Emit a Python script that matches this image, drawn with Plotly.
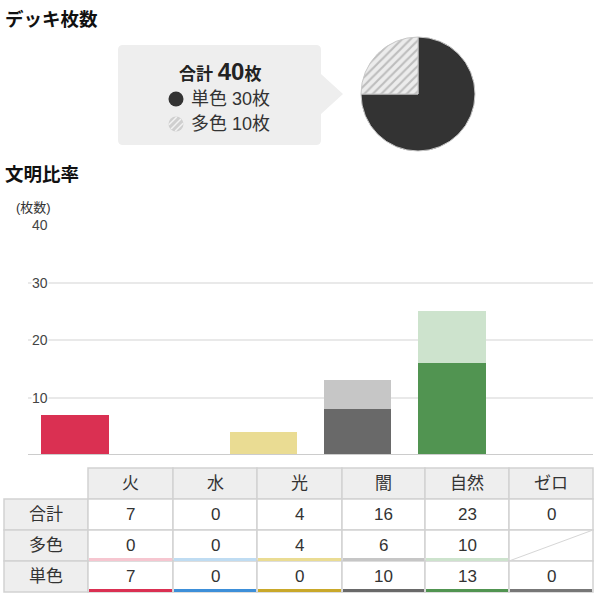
import math
import plotly.graph_objects as go

# ---------------- data ----------------
civs = ["火", "水", "光", "闇", "自然", "ゼロ"]
# stacked bar values as drawn in the chart
bar_single = [7, 0, 0, 8, 16, 0]
bar_multi = [0, 0, 4, 5, 9, 0]
# table values
tbl_total = [7, 0, 4, 16, 23, 0]
tbl_multi = [0, 0, 4, 6, 10, None]
tbl_single = [7, 0, 0, 10, 13, 0]
row_labels = ["合計", "多色", "単色"]
# deck composition
pie_labels = ["単色", "多色"]
pie_values = [30, 10]
deck_total = 40
y_ticks = [0, 10, 20, 30, 40]

dark_colors = ["#DA3052", "#3D8FD9", "#C9A82A", "#696969", "#519451", "#777777"]
light_colors = ["#F6C6D0", "#BFDCF2", "#EADC93", "#C6C6C6", "#CDE3CD", "#D8D8D8"]

W = H = 605
FONT = "Liberation Sans, Arial, Noto Sans CJK JP, sans-serif"


def X(px):
    return px / W


def Y(py):
    return 1 - py / H


fig = go.Figure()

# ---------------- bar chart ----------------
plot_x0, plot_x1 = 28, 593
plot_y0, plot_y1 = 455, 225  # bottom, top (pixels)

fig.add_trace(go.Bar(x=civs, y=bar_single, marker=dict(color=dark_colors, line=dict(width=0)),
                     width=0.72, hoverinfo="skip", name="単色"))
fig.add_trace(go.Bar(x=civs, y=bar_multi, marker=dict(color=light_colors, line=dict(width=0)),
                     width=0.72, hoverinfo="skip", name="多色"))

# ---------------- pie ----------------
pcx, pcy, pr = 418, 94, 57
fig.add_trace(go.Pie(
    labels=pie_labels, values=pie_values, sort=False, direction="clockwise", rotation=0,
    textinfo="none", hoverinfo="skip", showlegend=False,
    marker=dict(colors=["#333333", "#E6E6E6"],
                line=dict(color="#C8C8C8", width=1),
                pattern=dict(shape=["", "/"], fgcolor="#BDBDBD", bgcolor="#ECECEC", size=6, solidity=0.35)),
    domain=dict(x=[X(pcx - pr), X(pcx + pr)], y=[Y(pcy + pr), Y(pcy - pr)]),
))

shapes = []
annotations = []

# ---------------- titles ----------------
annotations.append(dict(text="<b>デッキ枚数</b>", x=X(3), y=Y(19), xref="paper", yref="paper",
                        xanchor="left", yanchor="middle", showarrow=False,
                        font=dict(size=18.5, color="#111", family=FONT)))
annotations.append(dict(text="<b>文明比率</b>", x=X(3), y=Y(175), xref="paper", yref="paper",
                        xanchor="left", yanchor="middle", showarrow=False,
                        font=dict(size=18.5, color="#111", family=FONT)))

# ---------------- callout box ----------------
bx0, bx1, by0, by1, rr = 118, 321, 45, 145, 5
tip_x, tip_y, tb0, tb1 = 343, 94, 74, 114
pts = [
    f"M {X(bx0 + rr)},{Y(by0)}",
    f"L {X(bx1 - rr)},{Y(by0)}",
    f"Q {X(bx1)},{Y(by0)} {X(bx1)},{Y(by0 + rr)}",
    f"L {X(bx1)},{Y(tb0)}",
    f"L {X(tip_x)},{Y(tip_y)}",
    f"L {X(bx1)},{Y(tb1)}",
    f"L {X(bx1)},{Y(by1 - rr)}",
    f"Q {X(bx1)},{Y(by1)} {X(bx1 - rr)},{Y(by1)}",
    f"L {X(bx0 + rr)},{Y(by1)}",
    f"Q {X(bx0)},{Y(by1)} {X(bx0)},{Y(by1 - rr)}",
    f"L {X(bx0)},{Y(by0 + rr)}",
    f"Q {X(bx0)},{Y(by0)} {X(bx0 + rr)},{Y(by0)} Z",
]
shapes.append(dict(type="path", path=" ".join(pts), xref="paper", yref="paper",
                   fillcolor="#EEEEEE", line=dict(width=0), layer="below"))

annotations.append(dict(
    text=f"<b>合計 <span style='font-size:24px'>{deck_total}</span>枚</b>",
    x=X(220), y=Y(71), xref="paper", yref="paper", xanchor="center", yanchor="middle",
    showarrow=False, font=dict(size=17, color="#222", family=FONT)))

leg_y = [99, 124]
icon_x, icon_r = 176, 7.5
# dark dot
shapes.append(dict(type="circle", xref="paper", yref="paper",
                   x0=X(icon_x - icon_r), x1=X(icon_x + icon_r),
                   y0=Y(leg_y[0] + icon_r), y1=Y(leg_y[0] - icon_r),
                   fillcolor="#333333", line=dict(width=0)))
# hatched dot
shapes.append(dict(type="circle", xref="paper", yref="paper",
                   x0=X(icon_x - icon_r), x1=X(icon_x + icon_r),
                   y0=Y(leg_y[1] + icon_r), y1=Y(leg_y[1] - icon_r),
                   fillcolor="#CFCFCF", line=dict(width=0)))
for d in (-4.5, 0, 4.5):
    half = math.sqrt(max(icon_r ** 2 - d ** 2, 0)) - 0.5
    cx = icon_x + d / math.sqrt(2)
    cy = leg_y[1] + d / math.sqrt(2)
    ux, uy = 1 / math.sqrt(2), -1 / math.sqrt(2)
    shapes.append(dict(type="line", xref="paper", yref="paper",
                       x0=X(cx - ux * half), y0=Y(cy - uy * half),
                       x1=X(cx + ux * half), y1=Y(cy + uy * half),
                       line=dict(color="#F2F2F2", width=1.5)))
for lab, val, ly in zip(pie_labels, pie_values, leg_y):
    annotations.append(dict(text=f"{lab} {val}枚", x=X(189), y=Y(ly), xref="paper", yref="paper",
                            xanchor="left", yanchor="middle", showarrow=False,
                            font=dict(size=18, color="#333", family=FONT)))

# ---------------- y axis label + tick labels ----------------
annotations.append(dict(text="(枚数)", x=X(14), y=Y(207), xref="paper", yref="paper",
                        xanchor="left", yanchor="middle", showarrow=False,
                        font=dict(size=13, color="#333", family=FONT)))
for t in y_ticks[1:]:
    annotations.append(dict(text=str(t), x=X(40), y=t, xref="paper", yref="y",
                            xanchor="center", yanchor="middle", showarrow=False,
                            bgcolor="white", borderpad=0,
                            font=dict(size=14, color="#444", family=FONT)))
# baseline
shapes.append(dict(type="line", xref="paper", yref="y", x0=X(plot_x0), x1=X(plot_x1), y0=0, y1=0,
                   line=dict(color="#CCCCCC", width=2), layer="above"))

# ---------------- table ----------------
col_edges = [4, 88, 173, 257, 342, 425, 509, 593]
row_edges = [468, 499, 530, 561, 592]
border = "#D2D2D2"
rows_vals = [tbl_total, tbl_multi, tbl_single]

for r in range(4):
    for c in range(7):
        if r == 0 and c == 0:
            continue
        fill = "#EEEEEE" if (r == 0 or c == 0) else "white"
        shapes.append(dict(type="rect", xref="paper", yref="paper",
                           x0=X(col_edges[c]), x1=X(col_edges[c + 1]),
                           y0=Y(row_edges[r + 1]), y1=Y(row_edges[r]),
                           fillcolor=fill, line=dict(color=border, width=1.5)))

def cell_center(r, c):
    return (col_edges[c] + col_edges[c + 1]) / 2, (row_edges[r] + row_edges[r + 1]) / 2

for c, name in enumerate(civs):
    cx, cy = cell_center(0, c + 1)
    annotations.append(dict(text=name, x=X(cx), y=Y(cy), xref="paper", yref="paper",
                            showarrow=False, xanchor="center", yanchor="middle",
                            font=dict(size=17, color="#333", family=FONT)))
for r, lab in enumerate(row_labels):
    cx, cy = cell_center(r + 1, 0)
    annotations.append(dict(text=lab, x=X(cx), y=Y(cy), xref="paper", yref="paper",
                            showarrow=False, xanchor="center", yanchor="middle",
                            font=dict(size=17, color="#333", family=FONT)))
    for c, v in enumerate(rows_vals[r]):
        if v is None:
            # diagonal "not applicable"
            shapes.append(dict(type="line", xref="paper", yref="paper",
                               x0=X(col_edges[c + 1]), y0=Y(row_edges[r + 2]),
                               x1=X(col_edges[c + 2]), y1=Y(row_edges[r + 1]),
                               line=dict(color="#D6D6D6", width=1)))
            continue
        cx, cy = cell_center(r + 1, c + 1)
        annotations.append(dict(text=str(v), x=X(cx), y=Y(cy), xref="paper", yref="paper",
                                showarrow=False, xanchor="center", yanchor="middle",
                                font=dict(size=17, color="#333", family=FONT)))

# coloured underlines
for c in range(6):
    x0, x1 = col_edges[c + 1] + 1, col_edges[c + 2] - 1
    if tbl_multi[c] is not None:
        yy = row_edges[3] - 1.5
        shapes.append(dict(type="line", xref="paper", yref="paper", x0=X(x0), x1=X(x1),
                           y0=Y(yy), y1=Y(yy), line=dict(color=light_colors[c], width=3)))
    yy = row_edges[4] - 1.5
    shapes.append(dict(type="line", xref="paper", yref="paper", x0=X(x0), x1=X(x1),
                       y0=Y(yy), y1=Y(yy), line=dict(color=dark_colors[c], width=3)))

fig.update_layout(
    width=W, height=H, margin=dict(l=0, r=0, t=0, b=0),
    paper_bgcolor="white", plot_bgcolor="white",
    barmode="stack", bargap=0.28, showlegend=False,
    font=dict(family=FONT),
    xaxis=dict(domain=[X(plot_x0), X(plot_x1)], range=[-0.5, 5.5], showticklabels=False,
               showgrid=False, zeroline=False, showline=False, fixedrange=True),
    yaxis=dict(domain=[Y(plot_y0), Y(plot_y1)], range=[0, 40], tickvals=y_ticks[1:],
               showticklabels=False, showgrid=True, gridcolor="#E9E9E9", gridwidth=1.5,
               zeroline=False, showline=False, fixedrange=True),
    shapes=shapes, annotations=annotations,
)

fig.write_html(
    "out.html",
    config={"displayModeBar": False},
    post_script="document.body.style.margin='0';document.body.style.padding='0';"
                "document.documentElement.style.overflow='hidden';",
)
